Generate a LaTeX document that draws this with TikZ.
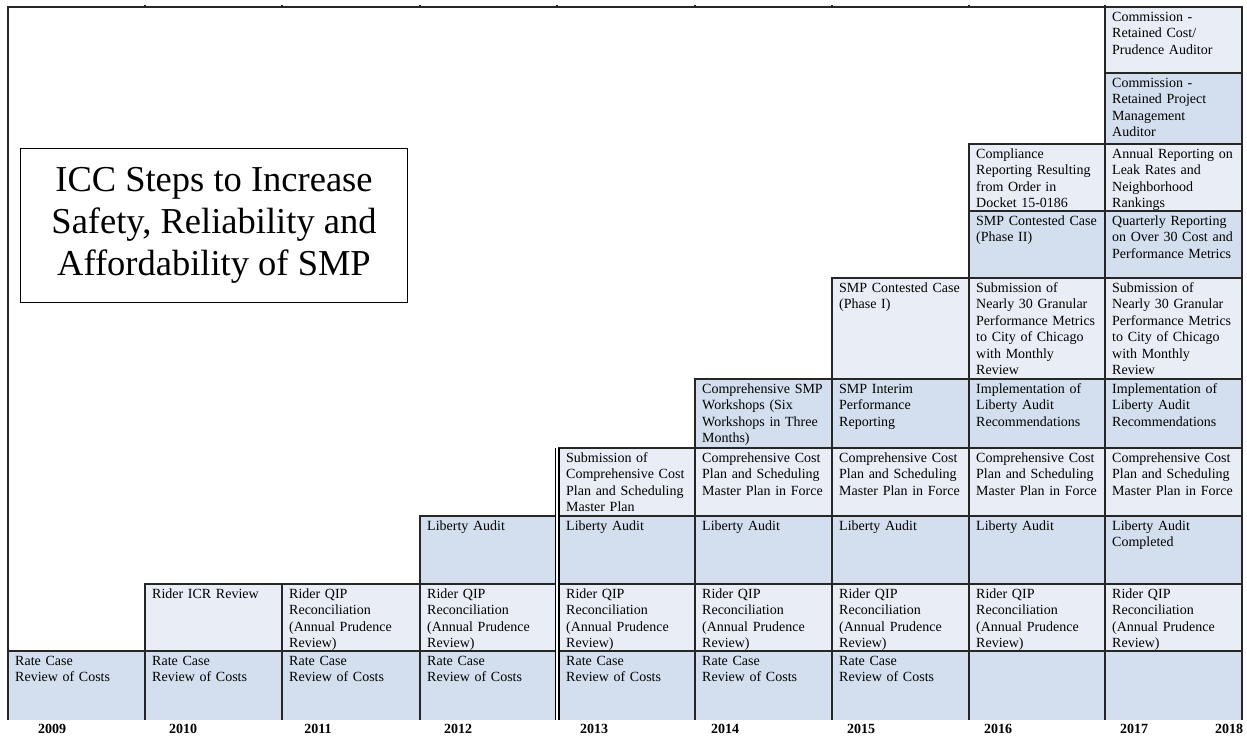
\documentclass[tikz,border=0pt]{standalone}
\usepackage{fontspec}
\setmainfont{Liberation Serif}
\usepackage{xcolor}
\definecolor{cellDark}{RGB}{211,223,238}
\definecolor{cellLight}{RGB}{233,237,246}

\begin{document}
\begin{tikzpicture}[x=1pt,y=-1pt,
    grid/.style={draw=black!85,line width=1.1pt},
    dk/.style={fill=cellDark,grid},
    lt/.style={fill=cellLight,grid},
    txt/.style={anchor=base west,inner sep=0pt,text width=130pt,align=left,
                font=\fontsize{14}{16.5}\selectfont},
    yr/.style={inner sep=0pt,font=\bfseries\fontsize{14}{14}\selectfont}]
  \useasboundingbox (0,0) rectangle (1247,736);

  % title
  \node[draw=black,line width=1pt,minimum width=387pt,minimum height=154pt,align=center,
        font=\fontsize{36.5}{42}\selectfont] (title) at (214,225)
        {ICC Steps to Increase\\Safety, Reliability and\\Affordability of SMP};

  % frame
  \draw[grid] (8,720) -- (8,7) -- (1242,7) -- (1242,720);
  \foreach \x in {145,282,420,557,695,832,969,1105}
    \draw[grid] (\x,7) -- (\x,4.5);

  % rate case row (no bottom line)
  \foreach \xa/\xb in {8/145,145/282,282/420,420/555.5,559/695,695/832,832/969,969/1105,1105/1242}{
    \fill[cellDark] (\xa,651) rectangle (\xb,720);
    \draw[grid] (\xa,720) -- (\xa,651) -- (\xb,651) -- (\xb,720);
  }
  \foreach \xa/\yr in {8/2009,145/2010,282/2011,420/2012,559/2013,695/2014,832/2015}
    \node[txt] (rate\yr) at (\xa+7,665) {Rate Case\\Review of Costs};

  % rider row
  \foreach \xa/\xb in {145/282,282/420,420/555.5,559/695,695/832,832/969,969/1105,1105/1242}
    \filldraw[lt] (\xa,584) rectangle (\xb,651);
  \node[txt] (icr2010) at (152,598) {Rider ICR Review};
  \foreach \xa/\yr in {282/2011,420/2012,559/2013,695/2014,832/2015,969/2016,1105/2017}
    \node[txt] (qip\yr) at (\xa+7,598) {Rider QIP\\Reconciliation\\(Annual Prudence\\Review)};

  % liberty audit row
  \foreach \xa/\xb in {420/555.5,559/695,695/832,832/969,969/1105,1105/1242}
    \filldraw[dk] (\xa,516) rectangle (\xb,584);
  \foreach \xa/\yr in {420/2012,559/2013,695/2014,832/2015,969/2016}
    \node[txt] (audit\yr) at (\xa+7,530) {Liberty Audit};
  \node[txt] (audit2017) at (1112,530) {Liberty Audit\\Completed};

  % master plan row
  \foreach \xa/\xb in {559/695,695/832,832/969,969/1105,1105/1242}
    \filldraw[lt] (\xa,448) rectangle (\xb,516);
  \node[txt] (plan2013) at (566,462) {Submission of\\Comprehensive Cost\\Plan and Scheduling\\Master Plan};
  \foreach \xa/\yr in {695/2014,832/2015,969/2016,1105/2017}
    \node[txt] (plan\yr) at (\xa+7,462) {Comprehensive Cost\\Plan and Scheduling\\Master Plan in Force};

  % workshops / interim / implementation row
  \foreach \xa/\xb in {695/832,832/969,969/1105,1105/1242}
    \filldraw[dk] (\xa,379) rectangle (\xb,448);
  \node[txt] (shops2014) at (702,393) {Comprehensive SMP\\Workshops (Six\\Workshops in Three\\Months)};
  \node[txt] (interim2015) at (839,393) {SMP Interim\\Performance\\Reporting};
  \foreach \xa/\yr in {969/2016,1105/2017}
    \node[txt] (impl\yr) at (\xa+7,393) {Implementation of\\Liberty Audit\\Recommendations};

  % contested case I / metrics row
  \foreach \xa/\xb in {832/969,969/1105,1105/1242}
    \filldraw[lt] (\xa,278) rectangle (\xb,379);
  \node[txt] (phaseI) at (839,292) {SMP Contested Case\\(Phase I)};
  \foreach \xa/\yr in {969/2016,1105/2017}
    \node[txt] (metrics\yr) at (\xa+7,292) {Submission of\\Nearly 30 Granular\\Performance Metrics\\to City of Chicago\\with Monthly\\Review};

  % upper rows
  \filldraw[dk] (969,211) rectangle (1105,278);
  \filldraw[dk] (1105,211) rectangle (1242,278);
  \filldraw[lt] (969,144) rectangle (1105,211);
  \filldraw[lt] (1105,144) rectangle (1242,211);
  \filldraw[dk] (1105,73) rectangle (1242,144);
  \filldraw[lt] (1105,7) rectangle (1242,73);
  \node[txt] (phaseII) at (976,225) {SMP Contested Case\\(Phase II)};
  \node[txt] (quarterly) at (1112,225) {Quarterly Reporting\\on Over 30 Cost and\\Performance Metrics};
  \node[txt] (compliance) at (976,158) {Compliance\\Reporting Resulting\\from Order in\\Docket 15-0186};
  \node[txt] (annual) at (1112,158) {Annual Reporting on\\Leak Rates and\\Neighborhood\\Rankings};
  \node[txt] (pmaudit) at (1112,87) {Commission -\\Retained Project\\Management\\Auditor};
  \node[txt] (costaudit) at (1112,21) {Commission -\\Retained Cost/\\Prudence Auditor};

  % double rule before 2013
  \draw[black,line width=1.6pt] (555.5,448) -- (555.5,720);
  \draw[black,line width=1.6pt] (559,448) -- (559,720);

  % years
  \foreach \yr/\xx in {2009/52,2010/183,2011/318,2012/458,2013/594,2014/725,2015/861,2016/998,2017/1134,2018/1229}
    \node[yr] (y\yr) at (\xx,729) {\yr};
\end{tikzpicture}
\end{document}
